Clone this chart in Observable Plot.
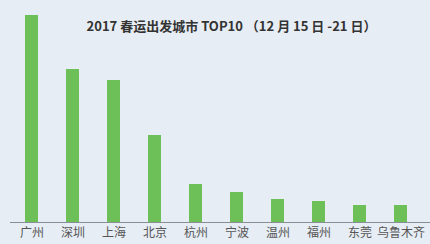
<!DOCTYPE html>
<html>
<head>
<meta charset="utf-8">
<script src="https://cdn.jsdelivr.net/npm/d3@7"></script>
<script src="https://cdn.jsdelivr.net/npm/@observablehq/plot@0.6"></script>
<style>
  html, body { margin: 0; padding: 0; background: #e7edf4; }
  #chart svg { display: block; background: #e7edf4; }
</style>
</head>
<body>
<div id="chart"></div>
<script>
const cities = ["广州", "深圳", "上海", "北京", "杭州", "宁波", "温州", "福州", "东莞", "乌鲁木齐"];
const values = [207, 153, 142, 87, 38, 30, 23, 21, 17, 17];
const title = "2017 春运出发城市 TOP10 （12 月 15 日 -21 日）";

const data = cities.map((c, i) => ({city: c, value: values[i]}));

const chart = Plot.plot({
  width: 430,
  height: 244,
  marginLeft: 10,
  marginRight: 0,
  marginTop: 15,
  marginBottom: 22,
  style: {background: "#e7edf4", fontFamily: "'Noto Sans CJK SC', sans-serif"},
  x: {domain: cities, paddingInner: 0.685, paddingOuter: 0.33, insetRight: 8, label: null},
  y: {domain: [0, 207], axis: null},
  marks: [
    Plot.barY(data, {x: "city", y: "value", fill: "#6dbf57"}),
    Plot.ruleY([0], {stroke: "#8a8f96", strokeWidth: 1}),
    Plot.axisX({tickSize: 0, tickPadding: 6, fontSize: 12, fill: "#555", label: null}),
    Plot.text([title], {frameAnchor: "top", dx: 11, dy: 11, fontSize: 13, fontWeight: "bold", fill: "#333", lineAnchor: "middle"})
  ]
});
document.getElementById("chart").appendChild(chart);
</script>
</body>
</html>
